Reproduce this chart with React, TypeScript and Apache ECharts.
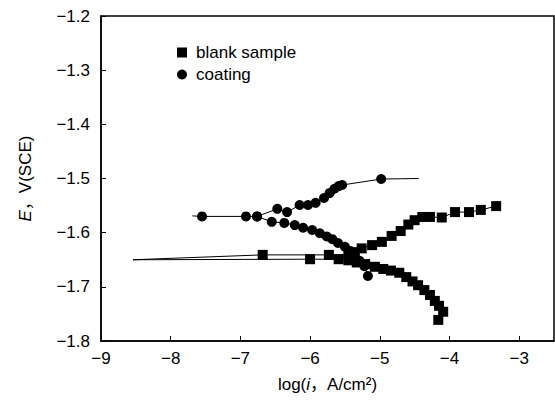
import React, { useEffect, useRef } from "react";
import * as echarts from "echarts";

// ---- data (log i in A/cm², E in V vs SCE) ----
const xTicksMin = -9;
const xTicksMax = -2.5;
const yMin = -1.8;
const yMax = -1.2;

const blankOrigin: [number, number] = [-8.54, -1.65];
const blankCathodic: [number, number][] = [
  [-6.0, -1.649],
  [-5.59, -1.649],
  [-5.45, -1.651],
  [-5.33, -1.655],
  [-5.21, -1.658],
  [-5.07, -1.663],
  [-4.95, -1.667],
  [-4.84, -1.67],
  [-4.72, -1.674],
  [-4.62, -1.682],
  [-4.53, -1.69],
  [-4.45, -1.697],
  [-4.36, -1.706],
  [-4.28, -1.715],
  [-4.21, -1.726],
  [-4.15, -1.735],
  [-4.09, -1.746],
  [-4.16, -1.761],
];
const blankAnodic: [number, number][] = [
  [-6.68, -1.641],
  [-5.73, -1.641],
  [-5.45, -1.64],
  [-5.36, -1.636],
  [-5.26, -1.629],
  [-5.11, -1.623],
  [-4.97, -1.617],
  [-4.83, -1.606],
  [-4.7, -1.597],
  [-4.59, -1.585],
  [-4.5, -1.577],
  [-4.39, -1.571],
  [-4.28, -1.571],
  [-4.11, -1.572],
  [-3.92, -1.562],
  [-3.72, -1.562],
  [-3.55, -1.558],
  [-3.33, -1.551],
];

const coatingStart: [number, number] = [-7.69, -1.569];
const coatingEnd: [number, number] = [-4.44, -1.5];
const coatingAnodic: [number, number][] = [
  [-7.55, -1.57],
  [-6.92, -1.57],
  [-6.76, -1.57],
  [-6.47, -1.556],
  [-6.33, -1.562],
  [-6.15, -1.549],
  [-6.03, -1.549],
  [-5.92, -1.545],
  [-5.8, -1.536],
  [-5.72, -1.527],
  [-5.65, -1.519],
  [-5.59, -1.514],
  [-5.54, -1.512],
  [-4.98, -1.501],
];
const coatingCathodic: [number, number][] = [
  [-6.76, -1.57],
  [-6.55, -1.58],
  [-6.37, -1.582],
  [-6.22, -1.586],
  [-6.1, -1.591],
  [-5.97, -1.595],
  [-5.86, -1.601],
  [-5.76, -1.607],
  [-5.68, -1.612],
  [-5.6, -1.619],
  [-5.5, -1.626],
  [-5.42, -1.634],
  [-5.36, -1.642],
  [-5.29, -1.652],
  [-5.22, -1.662],
  [-5.17, -1.68],
];

const FONT = "'Liberation Sans', Arial, 'Noto Sans CJK SC', sans-serif";
const minus = (s: string) => s.replace("-", "\u2212");

export default function App() {
  const ref = useRef<HTMLDivElement>(null);
  useEffect(() => {
    if (!ref.current) return;
    const chart = echarts.init(ref.current, undefined, { renderer: "svg" });
    const marker = (p: [number, number]) => ({ value: p });
    const bare = (p: [number, number]) => ({ value: p, symbol: "none" });
    const lineSeries = (name: string, symbol: string, size: number, data: any[]) => ({
      name,
      type: "line",
      symbol,
      symbolSize: size,
      showAllSymbol: true,
      data,
      itemStyle: { color: "#000" },
      lineStyle: { color: "#000", width: 1 },
      emphasis: { disabled: true },
      z: 3,
    });
    const rich = {
      n: { fontFamily: FONT, fontSize: 17, color: "#000" },
      i: { fontFamily: FONT, fontSize: 17, color: "#000", fontStyle: "italic" },
    };
    chart.setOption({
      animation: false,
      backgroundColor: "#fff",
      grid: {
        left: 101,
        right: 1,
        top: 16,
        bottom: 59,
        show: true,
        borderColor: "#000",
        borderWidth: 1.5,
      },
      legend: {
        orient: "vertical",
        left: 172,
        top: 39,
        itemWidth: 10,
        itemHeight: 10,
        itemGap: 5,
        data: [
          { name: "blank sample", icon: "rect" },
          { name: "coating", icon: "circle" },
        ],
        textStyle: { fontFamily: FONT, fontSize: 17, color: "#000", padding: [0, 0, 0, 4] },
        selectedMode: false,
      },
      xAxis: {
        type: "value",
        min: xTicksMin,
        max: xTicksMax,
        interval: 1,
        splitLine: { show: false },
        axisLine: { show: true, onZero: false, lineStyle: { color: "#000", width: 1.5 } },
        axisTick: { show: true, inside: true, length: 5, lineStyle: { color: "#000", width: 1 } },
        axisLabel: {
          showMaxLabel: false,
          margin: 9,
          fontFamily: FONT,
          fontSize: 17,
          color: "#000",
          formatter: (v: number) => minus(String(v)),
        },
        name: "{n|log(}{i|i}{n|，A/cm²)}",
        nameLocation: "middle",
        nameGap: 35,
        nameTextStyle: { rich },
      },
      yAxis: {
        type: "value",
        min: yMin,
        max: yMax,
        interval: 0.1,
        splitLine: { show: false },
        axisLine: { show: true, onZero: false, lineStyle: { color: "#000", width: 1.5 } },
        axisTick: { show: true, inside: true, length: 5, lineStyle: { color: "#000", width: 1 } },
        axisLabel: {
          margin: 11,
          fontFamily: FONT,
          fontSize: 17,
          color: "#000",
          formatter: (v: number) => minus(v.toFixed(1)),
        },
        name: "{i|E}{n|，V(SCE)}",
        nameLocation: "middle",
        nameGap: 67,
        nameRotate: 90,
        nameTextStyle: { rich },
      },
      series: [
        lineSeries("blank sample", "rect", 10, [bare(blankOrigin), ...blankCathodic.map(marker)]),
        lineSeries("blank sample", "rect", 10, [bare(blankOrigin), ...blankAnodic.map(marker)]),
        lineSeries("coating", "circle", 10, [bare(coatingStart), ...coatingAnodic.map(marker), bare(coatingEnd)]),
        lineSeries("coating", "circle", 10, coatingCathodic.map(marker)),
      ],
    });
    return () => chart.dispose();
  }, []);
  return (
    <div
      ref={ref}
      style={{ position: "fixed", left: 0, top: 0, width: 555, height: 400, background: "#fff" }}
    />
  );
}
